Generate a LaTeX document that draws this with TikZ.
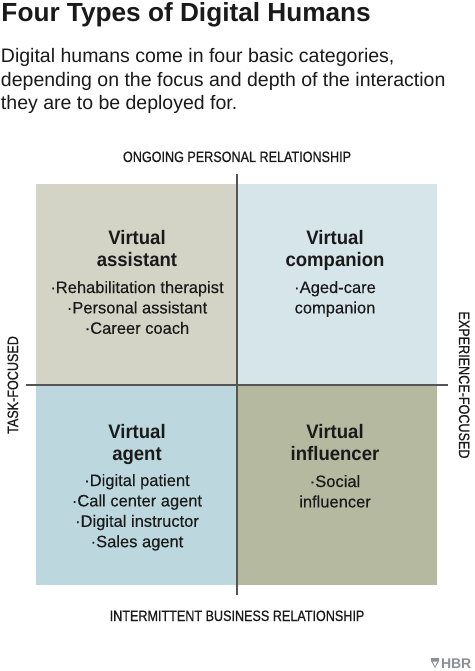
\documentclass[tikz,border=0pt]{standalone}
\usepackage{fontspec}
\setmainfont{Liberation Sans}
\newfontfamily\condfont[FakeStretch=0.84,FakeBold=0.6]{Liberation Sans}
\newfontfamily\headfont[FakeStretch=0.95]{Liberation Sans}
\newfontfamily\listfont[FakeBold=0.2]{Liberation Sans}
\definecolor{tlcol}{HTML}{D3D4C5}
\definecolor{trcol}{HTML}{D6E5E9}
\definecolor{blcol}{HTML}{BCD8DE}
\definecolor{brcol}{HTML}{B4B9A0}
\definecolor{axiscol}{HTML}{555555}
\definecolor{inkcol}{HTML}{1A1A1A}
\definecolor{logocol}{HTML}{8A9096}
\tikzset{
  txt/.style={inner sep=0pt, outer sep=0pt, text=inkcol},
  axislabel/.style={txt, anchor=base, font=\condfont\fontsize{15}{18}\selectfont},
  qhead/.style={txt, anchor=base, font=\headfont\bfseries\fontsize{19.5}{22.5}\selectfont},
  qlist/.style={txt, anchor=base, font=\listfont\fontsize{16.5}{20.4}\selectfont},
  axisline/.style={draw=axiscol, line width=1.1pt},
}
\begin{document}
\begin{tikzpicture}[x=1pt,y=-1pt]
\useasboundingbox[fill=white] (0,0) rectangle (474,671);
% title and subtitle
\node[txt, anchor=base west, font=\bfseries\fontsize{26.2}{28}\selectfont] (title) at (1.5,22) {Four Types of Digital Humans};
\node[txt, anchor=base west, font=\fontsize{19.5}{23.5}\selectfont] (subtitle) at (1,63)
  {\begin{tabular}[t]{@{}l@{}}Digital humans come in four basic categories,\\ depending on the focus and depth of the interaction\\ they are to be deployed for.\end{tabular}};
% quadrants
\fill[tlcol] (36,184) rectangle (237,385);
\fill[trcol] (237,184) rectangle (437,385);
\fill[blcol] (36,385) rectangle (237,585);
\fill[brcol] (237,385) rectangle (437,585);
% axes
\coordinate (vtop) at (237,174);
\coordinate (vbot) at (237,595);
\coordinate (hleft) at (26,385);
\coordinate (hright) at (448,385);
\draw[axisline] (hleft) -- (hright);
\draw[axisline] (vtop) -- (vbot);
% axis labels
\node[axislabel] (toplabel) at (237,162) {ONGOING PERSONAL RELATIONSHIP};
\node[axislabel] (botlabel) at (237,621) {INTERMITTENT BUSINESS RELATIONSHIP};
\node[axislabel, rotate=90] (leftlabel) at (18,385) {TASK-FOCUSED};
\node[axislabel, rotate=-90] (rightlabel) at (459,385) {EXPERIENCE-FOCUSED};
% quadrant texts
\node[qhead] (tlhead) at (137,244) {\begin{tabular}[t]{@{}c@{}}Virtual\\ assistant\end{tabular}};
\node[qlist] (tllist) at (137,293) {\begin{tabular}[t]{@{}c@{}}·Rehabilitation therapist\\ ·Personal assistant\\ ·Career coach\end{tabular}};
\node[qhead] (trhead) at (335,244) {\begin{tabular}[t]{@{}c@{}}Virtual\\ companion\end{tabular}};
\node[qlist] (trlist) at (335,293) {\begin{tabular}[t]{@{}c@{}}·Aged-care\\ companion\end{tabular}};
\node[qhead] (blhead) at (137,438) {\begin{tabular}[t]{@{}c@{}}Virtual\\ agent\end{tabular}};
\node[qlist] (bllist) at (137,486) {\begin{tabular}[t]{@{}c@{}}·Digital patient\\ ·Call center agent\\ ·Digital instructor\\ ·Sales agent\end{tabular}};
\node[qhead] (brhead) at (335,438) {\begin{tabular}[t]{@{}c@{}}Virtual\\ influencer\end{tabular}};
\node[qlist] (brlist) at (335,487) {\begin{tabular}[t]{@{}c@{}}·Social\\ influencer\end{tabular}};
% logo
\fill[logocol] (431,658) -- (439,658) -- (439,661) -- (435,668) -- (431,661) -- cycle;
\fill[white] (432.6,661.5) -- (437.4,661.5) -- (435,666) -- cycle;
\node[txt, anchor=base west, text=logocol, font=\bfseries\fontsize{14}{16}\selectfont] (logo) at (441,668) {HBR};
\end{tikzpicture}
\end{document}
